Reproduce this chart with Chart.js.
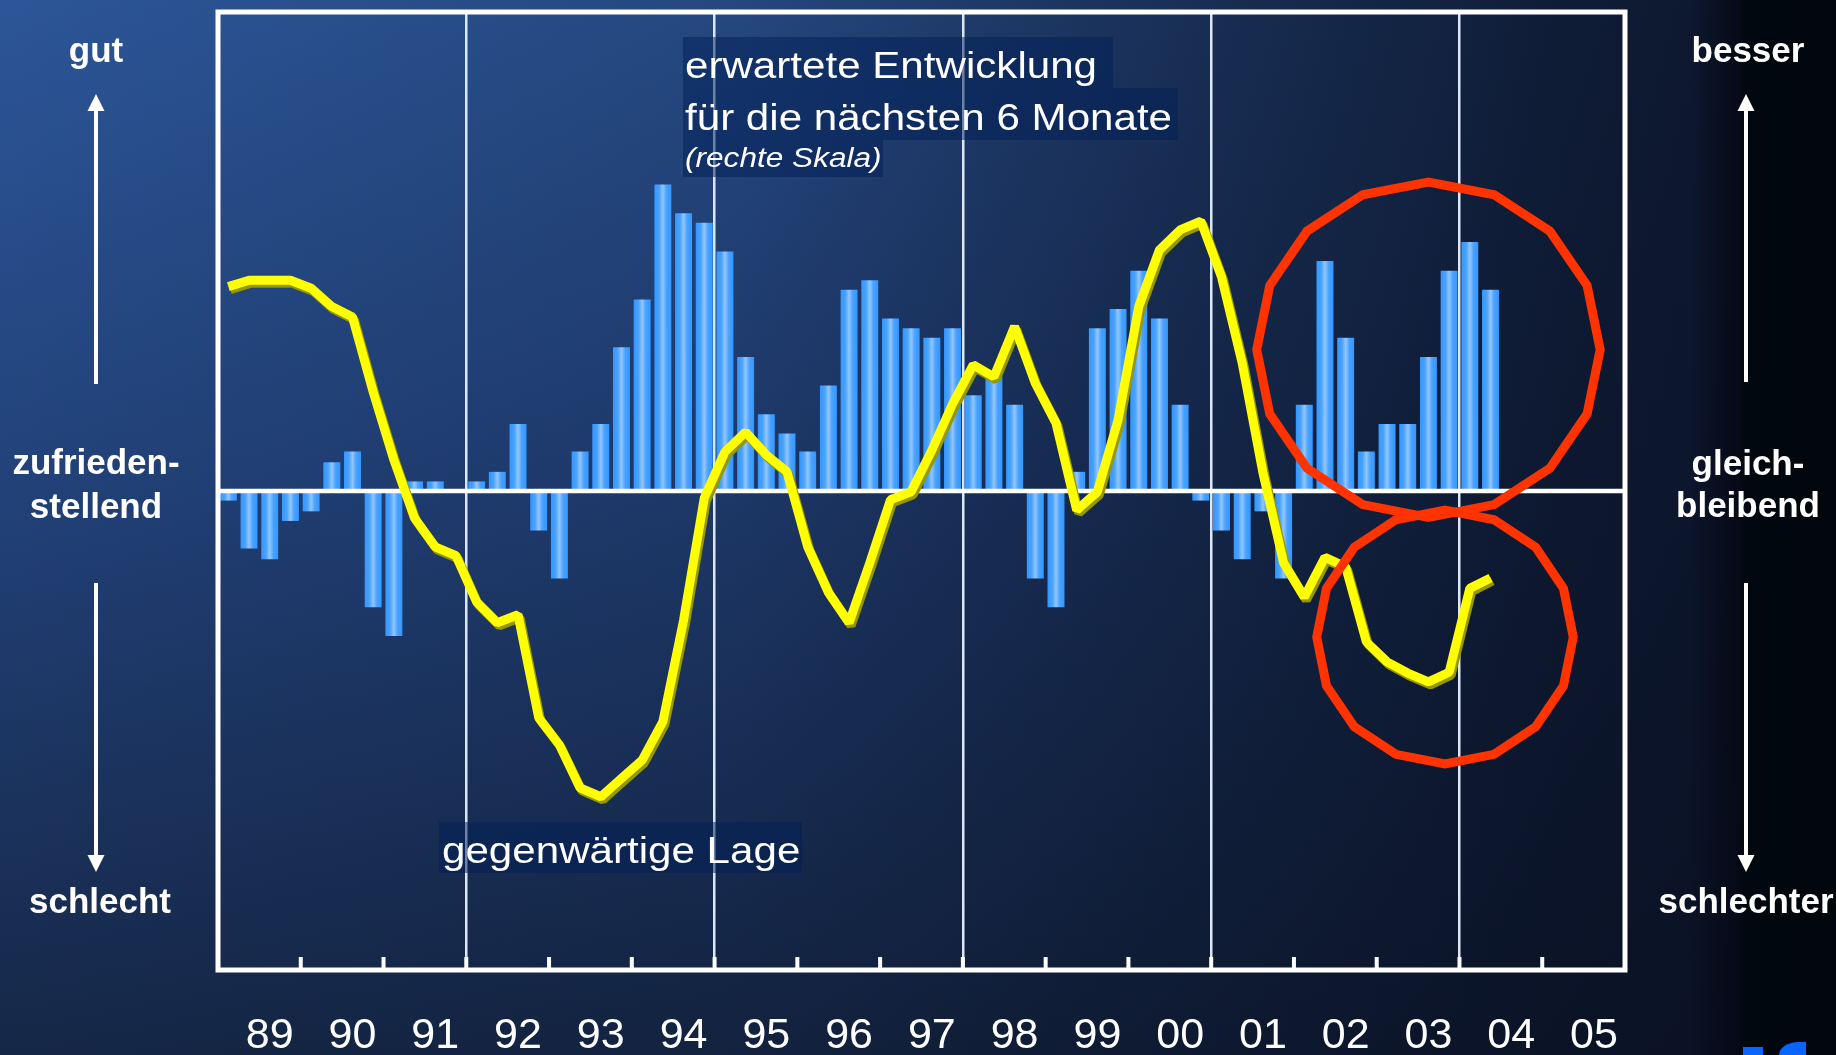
<!DOCTYPE html>
<html lang="de">
<head>
<meta charset="utf-8">
<title>Geschäftslage und Geschäftserwartungen</title>
<script src="https://cdn.jsdelivr.net/npm/chart.js@4.4.1/dist/chart.umd.min.js"></script>
<style>
html, body { margin: 0; padding: 0; }
body {
  width: 1836px; height: 1055px; overflow: hidden; position: relative;
  font-family: "Liberation Sans", Arial, sans-serif; color: #fff;
  background:
    linear-gradient(90deg, rgba(2,8,16,0) 0px, rgba(2,8,16,0) 1690px, rgba(6,8,20,0.85) 1738px, rgba(1,8,16,1) 1746px, rgba(1,6,12,1) 1836px),
    linear-gradient(90deg, rgba(8,14,30,0) 0%, rgba(8,14,30,0.2) 40%, rgba(8,14,30,0.55) 65%, rgba(8,14,30,0.8) 85%, rgba(8,14,30,0.9) 100%),
    linear-gradient(180deg, #2c5698 0%, #22427a 45%, #152747 100%);
}
#wrap { position: absolute; left: 0; top: 0; width: 1836px; height: 1055px; }
.box { position: absolute; background: rgba(0, 30, 85, 0.5); }
.t { position: absolute; white-space: nowrap; line-height: 1; transform-origin: 0 0; transform: scaleX(1.17); }
.title { font-size: 36px; }
.note { font-size: 27px; font-style: italic; }
.side { position: absolute; width: 220px; text-align: center; font-size: 35px; font-weight: bold; line-height: 1; }
.logo { position: absolute; background: #0a64ff; }
</style>
</head>
<body>
<div id="wrap"><canvas id="chart"></canvas></div>

<div class="box" style="left:683px;top:37px;width:430px;height:51px"></div>
<div class="box" style="left:683px;top:88px;width:495px;height:52px"></div>
<div class="box" style="left:683px;top:140px;width:200px;height:37px"></div>
<div class="t title" style="left:685px;top:48px">erwartete Entwicklung</div>
<div class="t title" style="left:685px;top:100px">für die nächsten 6 Monate</div>
<div class="t note" style="left:685px;top:145px">(rechte Skala)</div>

<div class="box" style="left:439px;top:822px;width:363px;height:51px"></div>
<div class="t title" style="left:442px;top:833px">gegenwärtige Lage</div>

<div class="side" style="left:-14px;top:32px">gut</div>
<div class="side" style="left:-14px;top:444px">zufrieden-</div>
<div class="side" style="left:-14px;top:488px">stellend</div>
<div class="side" style="left:-10px;top:883px">schlecht</div>
<div class="side" style="left:1638px;top:32px">besser</div>
<div class="side" style="left:1638px;top:445px">gleich-</div>
<div class="side" style="left:1638px;top:487px">bleibend</div>
<div class="side" style="left:1636px;top:883px">schlechter</div>

<svg width="1836" height="1055" style="position:absolute;left:0;top:0">
  <g stroke="#fff" stroke-width="4">
    <line x1="96" y1="384" x2="96" y2="108"/>
    <line x1="96" y1="583" x2="96" y2="858"/>
    <line x1="1746" y1="382" x2="1746" y2="108"/>
    <line x1="1746" y1="583" x2="1746" y2="858"/>
  </g>
  <g fill="#fff">
    <polygon points="96,94 87.5,111 104.5,111"/>
    <polygon points="96,872 87.5,855 104.5,855"/>
    <polygon points="1746,94 1737.5,111 1754.5,111"/>
    <polygon points="1746,872 1737.5,855 1754.5,855"/>
  </g>
</svg>

<div class="logo" style="left:1743px;top:1047px;width:20px;height:8px"></div>
<div class="logo" style="left:1779px;top:1042px;width:27px;height:13px;border-top-left-radius:27px 18px"></div>

<script>
// Jahre 1989-2005, Quartalswerte
const years = ['89', '90', '91', '92', '93', '94', '95', '96', '97', '98', '99', '00', '01', '02', '03', '04', '05'];

// gegenwaertige Lage (linke Skala)
const situation = [
  25.6, 26.4, 26.4, 26.4,
  25.4, 23.1, 21.8, 12.4,
  3.9, -3.4, -7.0, -8.1,
  -13.9, -16.5, -15.5, -28.4,
  -31.8, -37.2, -38.3, -36.0,
  -33.7, -28.9, -16.2, -0.9,
  4.9, 7.4, 4.5, 2.4,
  -7.0, -12.7, -16.5, -9.0,
  -1.1, -0.1, 5.1, 10.9,
  15.8, 14.3, 20.6, 13.5,
  8.5, -2.4, -0.1, 8.9,
  23.1, 30.2, 32.7, 33.8,
  26.8, 16.0, 2.3, -9.0,
  -13.3, -8.3, -9.5, -18.9,
  -21.4, -22.8, -23.9, -22.7,
  -12.2, -10.9
];

// erwartete Entwicklung fuer die naechsten 6 Monate (rechte Skala)
const expectations = [
  -0.8, -4.8, -5.7, -2.5,
  -1.7, 2.4, 3.3, -9.7,
  -12.1, 0.8, 0.8, 0,
  0.8, 1.6, 5.6, -3.3,
  -7.3, 3.3, 5.6, 12.0,
  16.0, 25.6, 23.2, 22.4,
  20.0, 11.2, 6.4, 4.8,
  3.3, 8.8, 16.8, 17.6,
  14.4, 13.6, 12.8, 13.6,
  8.0, 9.6, 7.2, -7.3,
  -9.7, 1.6, 13.6, 15.2,
  18.4, 14.4, 7.2, -0.8,
  -3.3, -5.7, -1.7, -7.3,
  7.2, 19.2, 12.8, 3.3,
  5.6, 5.6, 11.2, 18.4,
  20.8, 16.8
];

// rote Markierungen (Quartalsindex / rechte Skala)
const circles = [
  { x: 58.0, y: 11.8, rx: 8.3, ry: 14.0 },
  { x: 58.8, y: -12.2, rx: 6.2, ry: 10.6 }
];

const quarters = [];
years.forEach(function (y) {
  for (let q = 1; q <= 4; q++) quarters.push(q + '/' + y);
});

function barFill(ctx) {
  const chart = ctx.chart;
  if (ctx.type !== 'data' || !chart.chartArea) return '#3d9bff';
  const xs = chart.scales.x;
  const x = xs.getPixelForValue(ctx.dataIndex);
  const half = (xs.getPixelForValue(1) - xs.getPixelForValue(0)) * 0.41;
  const g = chart.ctx.createLinearGradient(x - half, 0, x + half, 0);
  g.addColorStop(0, '#3397ff');
  g.addColorStop(0.28, '#48a2ff');
  g.addColorStop(0.5, '#93c6ff');
  g.addColorStop(0.72, '#48a2ff');
  g.addColorStop(1, '#3397ff');
  return g;
}

const decorations = {
  id: 'decorations',
  beforeDatasetDraw(chart, args) {
    if (args.meta.type === 'line') {
      const c = chart.ctx;
      c.save();
      c.shadowColor = 'rgba(150,150,0,1)';
      c.shadowOffsetX = 2;
      c.shadowOffsetY = 3;
    }
  },
  afterDatasetDraw(chart, args) {
    const c = chart.ctx, a = chart.chartArea;
    if (args.meta.type === 'line') { c.restore(); return; }
    const y0 = chart.scales.y2.getPixelForValue(0);
    c.save();
    c.strokeStyle = '#fff';
    c.lineWidth = 4.5;
    c.beginPath();
    c.moveTo(a.left, y0);
    c.lineTo(a.right, y0);
    c.stroke();
    c.restore();
  },
  afterDatasetsDraw(chart) {
    const c = chart.ctx, xs = chart.scales.x, ys = chart.scales.y2;
    c.save();
    c.strokeStyle = '#ff3300';
    c.lineWidth = 9;
    circles.forEach(function (m) {
      const cx = xs.getPixelForValue(m.x), cy = ys.getPixelForValue(m.y);
      const rx = xs.getPixelForValue(m.x + m.rx) - cx;
      const ry = cy - ys.getPixelForValue(m.y + m.ry);
      c.beginPath();
      for (let k = 0; k < 16; k++) {
        const t = k * Math.PI / 8;
        const px = cx + rx * Math.cos(t), py = cy - ry * Math.sin(t);
        if (k) c.lineTo(px, py); else c.moveTo(px, py);
      }
      c.closePath();
      c.stroke();
    });
    c.restore();
  },
  afterDraw(chart) {
    const c = chart.ctx, a = chart.chartArea, xs = chart.scales.x;
    c.save();
    c.strokeStyle = '#fff';
    c.lineWidth = 5;
    c.strokeRect(a.left, a.top, a.right - a.left, a.bottom - a.top);
    c.lineWidth = 4;
    c.beginPath();
    for (let k = 1; k < years.length; k++) {
      const x = (xs.getPixelForValue(4 * k - 1) + xs.getPixelForValue(4 * k)) / 2;
      c.moveTo(x, a.bottom);
      c.lineTo(x, a.bottom - 13);
    }
    c.stroke();
    c.restore();
  }
};

Chart.defaults.font.family = '"Liberation Sans", Arial, sans-serif';

new Chart(document.getElementById('chart').getContext('2d'), {
  type: 'bar',
  data: {
    labels: quarters,
    datasets: [{
      type: 'line',
      label: 'gegenwärtige Lage',
      data: situation,
      yAxisID: 'y',
      borderColor: '#ffff00',
      borderWidth: 9,
      borderJoinStyle: 'bevel',
      pointRadius: 0,
      tension: 0,
      order: 1
    }, {
      type: 'bar',
      label: 'erwartete Entwicklung',
      data: expectations,
      yAxisID: 'y2',
      backgroundColor: barFill,
      borderWidth: 0,
      barPercentage: 0.82,
      categoryPercentage: 1,
      order: 2
    }]
  },
  options: {
    responsive: true,
    maintainAspectRatio: false,
    animation: false,
    events: [],
    layout: { padding: { left: 218, right: 211, top: 12, bottom: 0 } },
    plugins: {
      legend: { display: false },
      tooltip: { enabled: false },
      title: { display: false }
    },
    scales: {
      x: {
        offset: true,
        border: { display: false },
        grid: {
          offset: true,
          drawTicks: false,
          lineWidth: 2.5,
          color: function (ctx) {
            return (ctx.index > 0 && ctx.index < quarters.length && ctx.index % 12 === 0) ? '#dde7fb' : 'rgba(0,0,0,0)';
          }
        },
        ticks: {
          autoSkip: false,
          maxRotation: 0,
          color: '#fff',
          font: { size: 43 },
          padding: 40,
          callback: function (v, i) { return i % 4 === 2 ? years[Math.floor(i / 4)] : ''; }
        },
        afterFit: function (s) { s.height = 85; }
      },
      y: { display: false, min: -60, max: 60 },
      y2: { display: false, position: 'right', min: -40, max: 40 }
    }
  },
  plugins: [decorations]
});
</script>
</body>
</html>
